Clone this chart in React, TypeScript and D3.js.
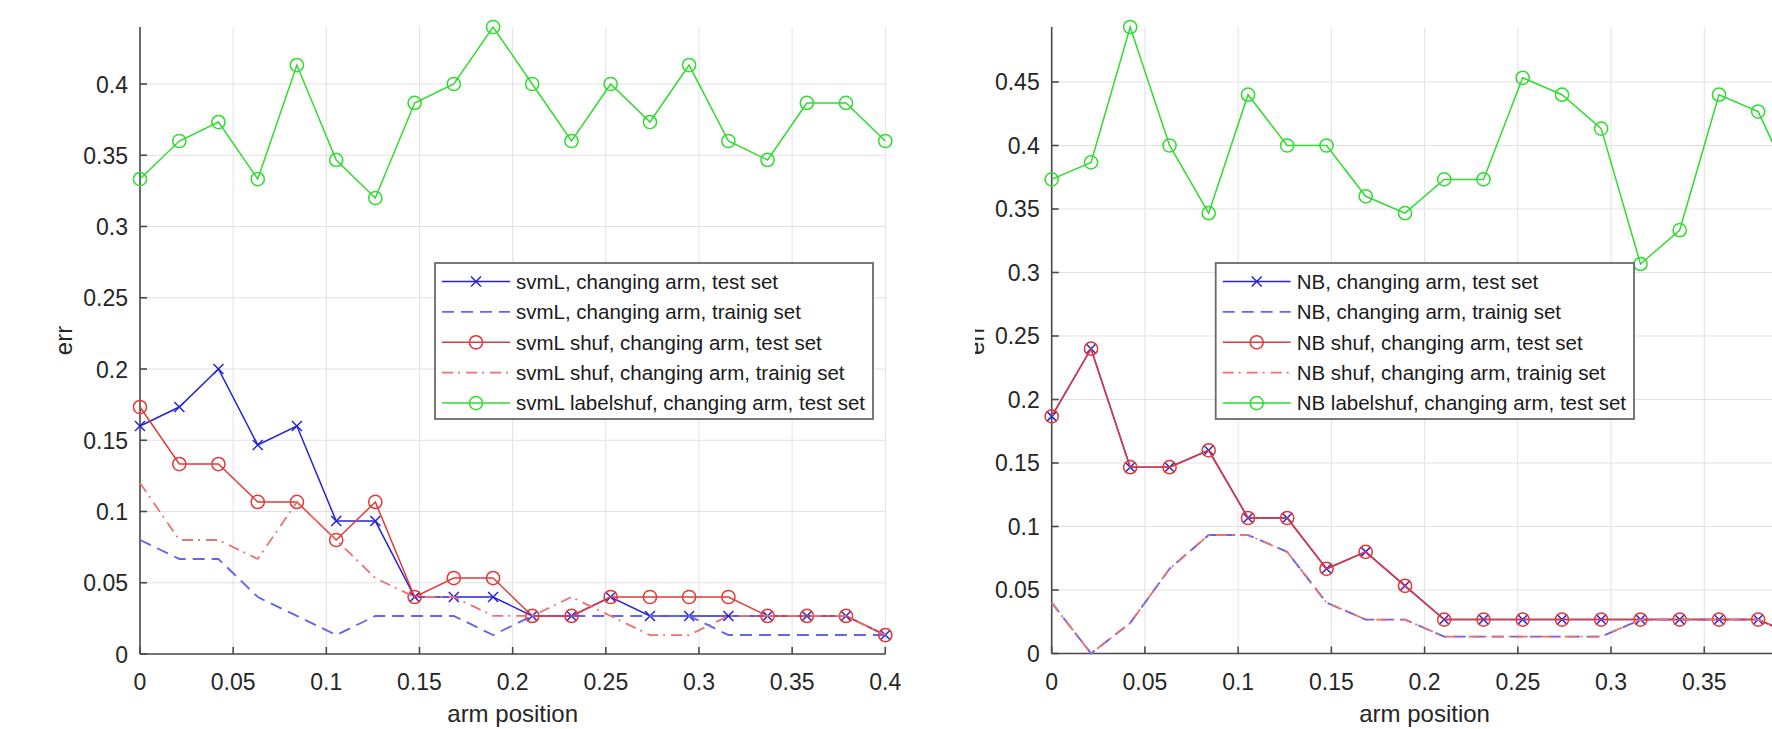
import React from 'react';
import * as d3 from 'd3';

// ---------- data ----------
const armPosition = [0, 0.0211, 0.0421, 0.0632, 0.0842, 0.1053, 0.1263, 0.1474, 0.1684, 0.1895, 0.2105, 0.2316, 0.2526, 0.2737, 0.2947, 0.3158, 0.3368, 0.3579, 0.3789, 0.4];

// left panel (svmL)
const svmTest = [0.16, 0.1733, 0.2, 0.1467, 0.16, 0.0933, 0.0933, 0.04, 0.04, 0.04, 0.0267, 0.0267, 0.04, 0.0267, 0.0267, 0.0267, 0.0267, 0.0267, 0.0267, 0.0133];
const svmTrain = [0.08, 0.0667, 0.0667, 0.04, 0.0267, 0.0133, 0.0267, 0.0267, 0.0267, 0.0133, 0.0267, 0.0267, 0.0267, 0.0267, 0.0267, 0.0133, 0.0133, 0.0133, 0.0133, 0.0133];
const svmShufTest = [0.1733, 0.1333, 0.1333, 0.1067, 0.1067, 0.08, 0.1067, 0.04, 0.0533, 0.0533, 0.0267, 0.0267, 0.04, 0.04, 0.04, 0.04, 0.0267, 0.0267, 0.0267, 0.0133];
const svmShufTrain = [0.12, 0.08, 0.08, 0.0667, 0.1067, 0.08, 0.0533, 0.04, 0.04, 0.0267, 0.0267, 0.04, 0.0267, 0.0133, 0.0133, 0.0267, 0.0267, 0.0267, 0.0267, 0.0133];
const svmLabelShufTest = [0.3333, 0.36, 0.3733, 0.3333, 0.4133, 0.3467, 0.32, 0.3867, 0.4, 0.44, 0.4, 0.36, 0.4, 0.3733, 0.4133, 0.36, 0.3467, 0.3867, 0.3867, 0.36];

// right panel (NB)
const nbTest = [0.1867, 0.24, 0.1467, 0.1467, 0.16, 0.1067, 0.1067, 0.0667, 0.08, 0.0533, 0.0267, 0.0267, 0.0267, 0.0267, 0.0267, 0.0267, 0.0267, 0.0267, 0.0267, 0.0133];
const nbTrain = [0.04, 0, 0.024, 0.0667, 0.0933, 0.0933, 0.08, 0.04, 0.0267, 0.0267, 0.0133, 0.0133, 0.0133, 0.0133, 0.0133, 0.0267, 0.0267, 0.0267, 0.0267, 0.0133];
const nbShufTest = [0.1867, 0.24, 0.1467, 0.1467, 0.16, 0.1067, 0.1067, 0.0667, 0.08, 0.0533, 0.0267, 0.0267, 0.0267, 0.0267, 0.0267, 0.0267, 0.0267, 0.0267, 0.0267, 0.0133];
const nbShufTrain = [0.04, 0, 0.024, 0.0667, 0.0933, 0.0933, 0.08, 0.04, 0.0267, 0.0267, 0.0133, 0.0133, 0.0133, 0.0133, 0.0133, 0.0267, 0.0267, 0.0267, 0.0267, 0.0133];
const nbLabelShufTest = [0.3733, 0.3867, 0.4933, 0.4, 0.3467, 0.44, 0.4, 0.4, 0.36, 0.3467, 0.3733, 0.3733, 0.4533, 0.44, 0.4133, 0.3067, 0.3333, 0.44, 0.4267, 0.36];

const xTicks = [0, 0.05, 0.1, 0.15, 0.2, 0.25, 0.3, 0.35, 0.4];
const xTickLabels = ['0', '0.05', '0.1', '0.15', '0.2', '0.25', '0.3', '0.35', '0.4'];
const yTicksLeft = [0, 0.05, 0.1, 0.15, 0.2, 0.25, 0.3, 0.35, 0.4];
const yTickLabelsLeft = ['0', '0.05', '0.1', '0.15', '0.2', '0.25', '0.3', '0.35', '0.4'];
const yTicksRight = [0, 0.05, 0.1, 0.15, 0.2, 0.25, 0.3, 0.35, 0.4, 0.45];
const yTickLabelsRight = ['0', '0.05', '0.1', '0.15', '0.2', '0.25', '0.3', '0.35', '0.4', '0.45'];

const legendLeft = [
  'svmL, changing arm, test set',
  'svmL, changing arm, trainig set',
  'svmL shuf, changing arm, test set',
  'svmL shuf, changing arm, trainig set',
  'svmL labelshuf, changing arm, test set',
];
const legendRight = [
  'NB, changing arm, test set',
  'NB, changing arm, trainig set',
  'NB shuf, changing arm, test set',
  'NB shuf, changing arm, trainig set',
  'NB labelshuf, changing arm, test set',
];

// ---------- styles ----------
const FONT = '"Liberation Sans", Arial, Helvetica, sans-serif';
const STYLES = [
  { color: '#2424d8', dash: undefined as string | undefined, marker: 'x', width: 1.5 },
  { color: '#6464f0', dash: '12,7', marker: 'none', width: 1.9 },
  { color: '#e23a3a', dash: undefined as string | undefined, marker: 'o', width: 1.5 },
  { color: '#ea7272', dash: '11,5,2,6', marker: 'none', width: 1.8 },
  { color: '#2fdc2f', dash: undefined as string | undefined, marker: 'o', width: 1.5 },
];

const W = 1772;
const H = 729;

function Marker({ type, cx, cy, color }: { type: string; cx: number; cy: number; color: string }) {
  if (type === 'o') {
    return <circle cx={cx} cy={cy} r={6.6} fill="none" stroke={color} strokeWidth={1.5} />;
  }
  if (type === 'x') {
    const s = 5;
    return (
      <g stroke={color} strokeWidth={1.5}>
        <line x1={cx - s} y1={cy - s} x2={cx + s} y2={cy + s} />
        <line x1={cx - s} y1={cy + s} x2={cx + s} y2={cy - s} />
      </g>
    );
  }
  return null;
}

type PanelProps = {
  left: number;
  right: number;
  top: number;
  bottom: number;
  yMax: number;
  yTicks: number[];
  yTickLabels: string[];
  series: number[][];
  legendLabels: string[];
  legendX: number;
  legendW: number;
};

function Panel(p: PanelProps) {
  const x = d3.scaleLinear().domain([0, 0.4]).range([p.left, p.right]);
  const y = d3.scaleLinear().domain([0, p.yMax]).range([p.bottom, p.top]);
  const line = d3
    .line<number>()
    .x((_, i) => x(armPosition[i]))
    .y((d) => y(d));

  const legTop = 263;
  const legH = 156;
  const rowY = (k: number) => legTop + 18.5 + k * 30.4;

  return (
    <g>
      {/* grid */}
      <g stroke="#e2e2e2" strokeWidth={1}>
        {xTicks.map((t) => (
          <line key={'gx' + t} x1={x(t)} x2={x(t)} y1={p.top} y2={p.bottom} />
        ))}
        {p.yTicks.map((t) => (
          <line key={'gy' + t} x1={p.left} x2={p.right} y1={y(t)} y2={y(t)} />
        ))}
      </g>
      {/* axes */}
      <g stroke="#4a4a4a" strokeWidth={1.6}>
        <line x1={p.left} x2={p.left} y1={p.top} y2={p.bottom} />
        <line x1={p.left} x2={p.right} y1={p.bottom} y2={p.bottom} />
        {xTicks.map((t) => (
          <line key={'tx' + t} x1={x(t)} x2={x(t)} y1={p.bottom} y2={p.bottom - 7} />
        ))}
        {p.yTicks.map((t) => (
          <line key={'ty' + t} x1={p.left} x2={p.left + 7} y1={y(t)} y2={y(t)} />
        ))}
      </g>
      {/* tick labels (only those that fall inside the picture) */}
      <g fill="#262626" fontFamily={FONT} fontSize={23}>
        {xTicks
          .map((t, i) => ({ t, i }))
          .filter(({ t }) => x(t) + 20 < W)
          .map(({ t, i }) => (
            <text key={'lx' + t} x={x(t)} y={p.bottom + 36} textAnchor="middle">
              {xTickLabels[i]}
            </text>
          ))}
        {p.yTicks.map((t, i) => (
          <text key={'ly' + t} x={p.left - 12} y={y(t) + 8.5} textAnchor="end">
            {p.yTickLabels[i]}
          </text>
        ))}
      </g>
      {/* axis labels */}
      <text
        x={(p.left + p.right) / 2}
        y={p.bottom + 68}
        textAnchor="middle"
        fontFamily={FONT}
        fontSize={24}
        fill="#262626"
      >
        arm position
      </text>
      <text
        transform={`translate(${p.left - 68},${(p.top + p.bottom) / 2}) rotate(-90)`}
        textAnchor="middle"
        fontFamily={FONT}
        fontSize={24}
        fill="#262626"
      >
        err
      </text>
      {/* series */}
      {p.series.map((s, k) => {
        const st = STYLES[k];
        return (
          <g key={'s' + k}>
            <path d={line(s) || ''} fill="none" stroke={st.color} strokeWidth={st.width} strokeDasharray={st.dash} />
            {st.marker !== 'none' &&
              s.map((v, i) => (
                <Marker key={i} type={st.marker} cx={x(armPosition[i])} cy={y(v)} color={st.color} />
              ))}
          </g>
        );
      })}
      {/* legend */}
      <g>
        <rect x={p.legendX} y={legTop} width={p.legendW} height={legH} fill="#ffffff" stroke="#6a6a6a" strokeWidth={1.8} />
        {p.legendLabels.map((lab, k) => {
          const st = STYLES[k];
          const ry = rowY(k);
          return (
            <g key={'lg' + k}>
              <line
                x1={p.legendX + 7}
                x2={p.legendX + 75}
                y1={ry}
                y2={ry}
                stroke={st.color}
                strokeWidth={st.width}
                strokeDasharray={st.dash}
              />
              {st.marker !== 'none' && <Marker type={st.marker} cx={p.legendX + 41} cy={ry} color={st.color} />}
              <text x={p.legendX + 81} y={ry + 7.3} fontFamily={FONT} fontSize={20.5} fill="#1a1a1a">
                {lab}
              </text>
            </g>
          );
        })}
      </g>
    </g>
  );
}

export default function App() {
  return (
    <svg
      width={W}
      height={H}
      viewBox={`0 0 ${W} ${H}`}
      style={{ position: 'absolute', left: 0, top: 0, background: '#ffffff' }}
    >
      <rect x={0} y={0} width={W} height={H} fill="#ffffff" />
      <defs>
        <clipPath id="rightClip">
          <rect x={975} y={0} width={W - 975} height={H} />
        </clipPath>
      </defs>
      <Panel
        left={140}
        right={885.3}
        top={27}
        bottom={654}
        yMax={0.44}
        yTicks={yTicksLeft}
        yTickLabels={yTickLabelsLeft}
        series={[svmTest, svmTrain, svmShufTest, svmShufTrain, svmLabelShufTest]}
        legendLabels={legendLeft}
        legendX={435}
        legendW={438}
      />
      <g clipPath="url(#rightClip)">
        <Panel
          left={1051.7}
          right={1797.5}
          top={27}
          bottom={653.5}
          yMax={0.4933}
          yTicks={yTicksRight}
          yTickLabels={yTickLabelsRight}
          series={[nbTest, nbTrain, nbShufTest, nbShufTrain, nbLabelShufTest]}
          legendLabels={legendRight}
          legendX={1215.7}
          legendW={418.3}
        />
      </g>
    </svg>
  );
}
